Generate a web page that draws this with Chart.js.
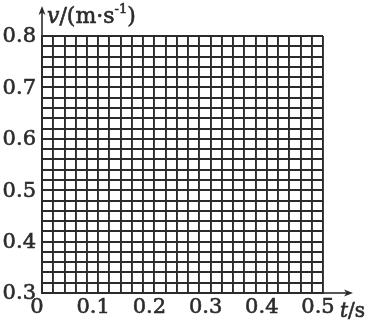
<!DOCTYPE html>
<html>
<head>
<meta charset="utf-8">
<script src="https://cdn.jsdelivr.net/npm/chart.js@4.4.1/dist/chart.umd.min.js"></script>
<style>
  html, body { margin: 0; padding: 0; background: #fff; }
  #wrap { width: 369px; height: 321px; position: relative; }
</style>
</head>
<body>
<div id="wrap"><canvas id="vtChart" width="369" height="321"></canvas></div>
<script>
// axis ranges, grid step and tick labels
const xTicks = [0, 0.1, 0.2, 0.3, 0.4, 0.5];
const xTickLabels = ['0', '0.1', '0.2', '0.3', '0.4', '0.5'];
const yTicks = [0.3, 0.4, 0.5, 0.6, 0.7, 0.8];
const yTickLabels = ['0.3', '0.4', '0.5', '0.6', '0.7', '0.8'];
const gridStep = 0.02;
// the figure is an empty grid, no measured points yet
const speedPoints = [];

const inkColor = '#2b2b2b';
const fam = '"DejaVu Serif", "Liberation Serif", serif';
const labelFont = { family: fam, size: 21 };

function tickLabel(value, ticks, labels) {
    for (let i = 0; i < ticks.length; i++) {
        if (Math.abs(value - ticks[i]) < 1e-6) return labels[i];
    }
    return '';
}

// a slightly heavier text, like the printed figure
function inkText(ctx, txt, x, y) {
    ctx.fillText(txt, x, y);
    ctx.strokeText(txt, x, y);
}

// draws the axis arrows and the two axis names
const axisArrows = {
    id: 'axisArrows',
    afterDraw(chart) {
        const ctx = chart.ctx;
        const a = chart.chartArea;
        ctx.save();
        ctx.strokeStyle = inkColor;
        ctx.fillStyle = inkColor;
        ctx.lineWidth = 1.6;

        // y arrow
        ctx.beginPath();
        ctx.moveTo(a.left, a.top);
        ctx.lineTo(a.left, 10);
        ctx.stroke();
        ctx.beginPath();
        ctx.moveTo(a.left, 6);
        ctx.lineTo(a.left - 3.5, 15);
        ctx.lineTo(a.left, 12.5);
        ctx.lineTo(a.left + 3.5, 15);
        ctx.closePath();
        ctx.fill();

        // x arrow
        ctx.beginPath();
        ctx.moveTo(a.right, a.bottom);
        ctx.lineTo(348, a.bottom);
        ctx.stroke();
        ctx.beginPath();
        ctx.moveTo(353, a.bottom);
        ctx.lineTo(344, a.bottom - 3.5);
        ctx.lineTo(346.5, a.bottom);
        ctx.lineTo(344, a.bottom + 3.5);
        ctx.closePath();
        ctx.fill();

        // y title: v/(m·s^-1)
        ctx.lineWidth = 0.6;
        ctx.textBaseline = 'alphabetic';
        ctx.textAlign = 'left';
        let x = a.left + 5;
        const y = 23;
        ctx.font = 'italic 22px ' + fam;
        inkText(ctx, 'v', x, y);
        x += ctx.measureText('v').width;
        ctx.font = '22px ' + fam;
        inkText(ctx, '/(m·s', x, y);
        x += ctx.measureText('/(m·s').width;
        ctx.font = '13px ' + fam;
        inkText(ctx, '-1', x, y - 10);
        x += ctx.measureText('-1').width;
        ctx.font = '22px ' + fam;
        inkText(ctx, ')', x, y);

        // x title: t/s
        x = 340;
        const yb = 317;
        ctx.font = 'italic 20px ' + fam;
        inkText(ctx, 't', x, yb);
        x += ctx.measureText('t').width;
        ctx.font = '20px ' + fam;
        inkText(ctx, '/s', x, yb);
        ctx.restore();
    }
};

new Chart(document.getElementById('vtChart').getContext('2d'), {
    type: 'scatter',
    data: {
        datasets: [{ data: speedPoints, pointRadius: 0 }]
    },
    options: {
        responsive: false,
        animation: false,
        layout: { padding: { top: 36, right: 46, bottom: 0, left: 0 } },
        plugins: { legend: { display: false }, tooltip: { enabled: false } },
        scales: {
            x: {
                type: 'linear',
                min: xTicks[0],
                max: xTicks[xTicks.length - 1],
                afterFit(scale) { scale.height = 28; },
                grid: { color: inkColor, lineWidth: 1.9, drawTicks: false },
                border: { color: inkColor, width: 1.9 },
                ticks: {
                    stepSize: gridStep,
                    autoSkip: false,
                    maxRotation: 0,
                    padding: 2,
                    labelOffset: -5,
                    color: inkColor,
                    textStrokeColor: inkColor,
                    textStrokeWidth: 0.6,
                    font: labelFont,
                    callback: v => tickLabel(v, xTicks, xTickLabels)
                }
            },
            y: {
                type: 'linear',
                min: yTicks[0],
                max: yTicks[yTicks.length - 1],
                afterFit(scale) { scale.width = 42; },
                grid: { color: inkColor, lineWidth: 1.9, drawTicks: false },
                border: { color: inkColor, width: 1.9 },
                ticks: {
                    stepSize: gridStep,
                    autoSkip: false,
                    padding: 6,
                    labelOffset: 1,
                    color: inkColor,
                    textStrokeColor: inkColor,
                    textStrokeWidth: 0.6,
                    font: labelFont,
                    callback: v => tickLabel(v, yTicks, yTickLabels)
                }
            }
        }
    },
    plugins: [axisArrows]
});
</script>
</body>
</html>
